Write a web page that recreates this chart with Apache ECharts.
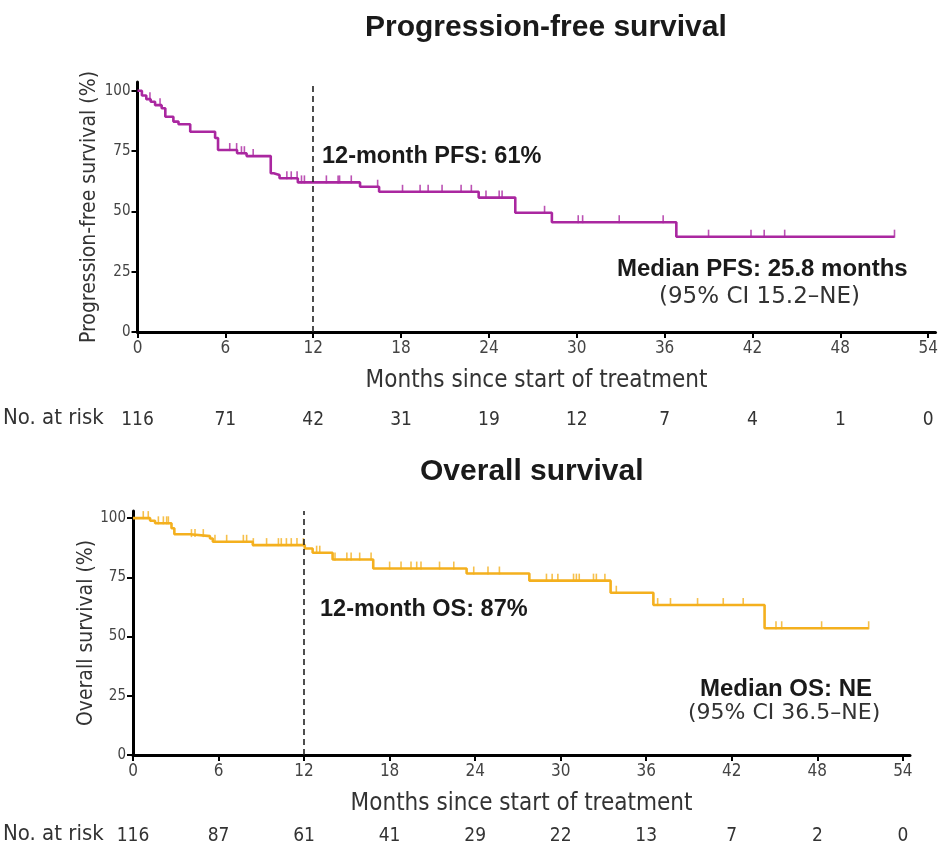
<!DOCTYPE html>
<html><head><meta charset="utf-8">
<script src="https://cdn.jsdelivr.net/npm/echarts@6/dist/echarts.min.js"></script>
<style>html,body{margin:0;padding:0;background:#fff}#c{width:943px;height:849px}</style>
</head><body><div id="c"></div>
<script>
// ---- data ----
const xTicks = [0, 6, 12, 18, 24, 30, 36, 42, 48, 54];
const yTicks = [0, 25, 50, 75, 100];

const pfsTimes  = [0, 0.3, 0.6, 0.9, 1.2, 1.65, 1.9, 2.45, 2.8, 3.6, 5.3, 5.5, 6.8, 7.45, 9.1, 9.3, 9.7, 10.95, 15.2, 16.5, 23.3, 25.8, 28.3, 36.8, 51.7];
const pfsValues = [100, 98, 96.5, 95.4, 94, 92.7, 89.2, 87.2, 86.1, 83.0, 80.4, 75.4, 74.1, 72.9, 65.8, 65.1, 63.7, 62.0, 60.2, 58.1, 55.7, 49.4, 45.5, 39.5, 39.5];
const pfsCensor = [0.85, 1.54, 6.3, 6.77, 7.1, 7.3, 7.9, 10.2, 10.5, 10.9, 11.2, 11.4, 12.9, 13.7, 13.8, 14.6, 16.4, 18.1, 19.3, 19.85, 20.8, 22.1, 22.8, 23.8, 24.7, 24.9, 27.8, 30.1, 30.4, 32.9, 35.9, 39.0, 41.9, 42.8, 44.2, 51.7];
const pfsAtRisk = [116, 71, 42, 31, 19, 12, 7, 4, 1, 0];

const osTimes  = [0, 1.2, 1.55, 2.7, 2.9, 4.0, 5.4, 5.6, 8.4, 12.05, 12.6, 14.0, 16.85, 23.4, 27.8, 33.5, 36.5, 44.3, 51.6];
const osValues = [100, 98.9, 97.8, 95.7, 93.2, 92.4, 91.4, 90.0, 88.6, 87.2, 85.4, 82.5, 78.7, 76.6, 73.6, 68.5, 63.3, 53.5, 53.5];
const osCensor = [0.72, 1.07, 1.78, 2.13, 2.36, 2.48, 4.1, 4.35, 4.93, 5.75, 6.57, 7.74, 7.97, 8.44, 9.37, 10.2, 10.4, 10.76, 11.1, 11.5, 11.95, 12.88, 13.1, 14.17, 15.0, 15.3, 15.9, 16.7, 18.0, 18.8, 19.5, 19.9, 20.2, 21.5, 22.5, 23.9, 24.9, 25.7, 29.0, 29.4, 29.8, 30.9, 31.1, 31.3, 32.3, 32.5, 33.1, 33.9, 36.8, 37.7, 39.6, 41.4, 42.8, 45.1, 45.5, 48.3, 51.6];
const osAtRisk = [116, 87, 61, 41, 29, 22, 13, 7, 2, 0];

// ---- helpers ----
function stepAt(times, vals, t) {
  let v = vals[0];
  for (let i = 0; i < times.length; i++) { if (times[i] <= t) v = vals[i]; else break; }
  return v;
}
const pfsLine = pfsTimes.map((t, i) => [t, pfsValues[i]]);
const osLine = osTimes.map((t, i) => [t, osValues[i]]);
const pfsCens = pfsCensor.map(t => [t, stepAt(pfsTimes, pfsValues, t)]);
const osCens = osCensor.map(t => [t, stepAt(osTimes, osValues, t)]);

const NARROW = '"Liberation Sans Narrow", "DejaVu Sans Condensed", "Liberation Sans", sans-serif';
const SANS = '"Liberation Sans", Arial, sans-serif';
const WIDE = '"DejaVu Sans", "Liberation Sans", sans-serif';
const PFS_COLOR = '#AA27A0';
const OS_COLOR = '#F4B01E';

function mainX(grid) {
  return {
    type: 'value', gridIndex: grid, min: 0, max: 54.5,
    name: 'Months since start of treatment', nameLocation: 'middle', nameGap: 37, nameMoveOverlap: false,
    nameTextStyle: { fontFamily: NARROW, fontSize: 24, color: '#333', verticalAlign: 'top' },
    axisLine: { show: true, onZero: false, lineStyle: { color: '#000', width: 3 } },
    axisTick: { show: true, length: 6, lineStyle: { color: '#000', width: 2 }, customValues: xTicks },
    axisLabel: { fontFamily: NARROW, fontSize: 17, color: '#444', margin: 8, customValues: xTicks },
    splitLine: { show: false }
  };
}
function riskX(grid, arr, offset) {
  return {
    type: 'value', gridIndex: grid, min: 0, max: 54.5, position: 'bottom', offset: offset,
    axisLine: { show: false }, axisTick: { show: false }, splitLine: { show: false },
    axisLabel: { fontFamily: NARROW, fontSize: 19, color: '#333', margin: 0, verticalAlign: 'middle',
      customValues: xTicks, formatter: v => String(arr[xTicks.indexOf(v)]) }
  };
}
function mainY(grid, name, max, gap) {
  return {
    type: 'value', gridIndex: grid, min: 0, max: max,
    name: name, nameLocation: 'middle', nameGap: gap, nameRotate: 90, nameMoveOverlap: false,
    nameTextStyle: { fontFamily: NARROW, fontSize: 21, color: '#333' },
    axisLine: { show: true, onZero: false, lineStyle: { color: '#000', width: 3 } },
    axisTick: { show: true, length: 6, lineStyle: { color: '#000', width: 2 }, customValues: yTicks },
    axisLabel: { fontFamily: NARROW, fontSize: 15, color: '#444', margin: 7, customValues: yTicks },
    splitLine: { show: false }
  };
}
function dashed() {
  return { symbol: 'none', silent: true, label: { show: false },
    lineStyle: { type: [6, 4], color: '#222', width: 1.6 }, data: [{ xAxis: 12 }] };
}

const chart = echarts.init(document.getElementById('c'), null, { renderer: 'canvas' });
chart.setOption({
  animation: false,
  grid: [
    { left: 137.5, top: 82, width: 798, height: 250 },
    { left: 133, top: 511, width: 777, height: 244 }
  ],
  xAxis: [mainX(0), riskX(0, pfsAtRisk, 88), mainX(1), riskX(1, osAtRisk, 81)],
  yAxis: [mainY(0, 'Progression-free survival (%)', 103.6, 37), mainY(1, 'Overall survival (%)', 103, 36)],
  series: [
    { type: 'line', xAxisIndex: 0, yAxisIndex: 0, step: 'end', data: pfsLine, showSymbol: false,
      lineStyle: { color: PFS_COLOR, width: 2.6 }, markLine: dashed(), z: 3 },
    { type: 'scatter', xAxisIndex: 0, yAxisIndex: 0, data: pfsCens, symbol: 'rect', symbolSize: [1.6, 8],
      symbolOffset: [0, -3], itemStyle: { color: PFS_COLOR }, z: 4 },
    { type: 'line', xAxisIndex: 2, yAxisIndex: 1, step: 'end', data: osLine, showSymbol: false,
      lineStyle: { color: OS_COLOR, width: 2.6 }, markLine: dashed(), z: 3 },
    { type: 'scatter', xAxisIndex: 2, yAxisIndex: 1, data: osCens, symbol: 'rect', symbolSize: [1.6, 8],
      symbolOffset: [0, -3], itemStyle: { color: OS_COLOR }, z: 4 }
  ],
  graphic: [
    { type: 'text', left: 365, top: 13, style: { text: 'Progression-free survival', font: 'bold 30px ' + SANS, fill: '#1a1a1a' } },
    { type: 'text', left: 420, top: 457, style: { text: 'Overall survival', font: 'bold 30px ' + SANS, fill: '#1a1a1a' } },
    { type: 'text', left: 3, top: 407, style: { text: 'No. at risk', font: '22px ' + NARROW, fill: '#333' } },
    { type: 'text', left: 3, top: 823, style: { text: 'No. at risk', font: '22px ' + NARROW, fill: '#333' } },
    { type: 'text', left: 322, top: 145, style: { text: '12-month PFS: 61%', font: 'bold 23.5px ' + SANS, fill: '#1a1a1a' } },
    { type: 'text', left: 617, top: 257, style: { text: 'Median PFS: 25.8 months', font: 'bold 24px ' + SANS, fill: '#1a1a1a' } },
    { type: 'text', left: 659, top: 286, style: { text: '(95% CI 15.2\u2013NE)', font: '23px ' + WIDE, fill: '#333' } },
    { type: 'text', left: 320, top: 598, style: { text: '12-month OS: 87%', font: 'bold 23.5px ' + SANS, fill: '#1a1a1a' } },
    { type: 'text', left: 700, top: 677, style: { text: 'Median OS: NE', font: 'bold 24px ' + SANS, fill: '#1a1a1a' } },
    { type: 'text', left: 688, top: 702, style: { text: '(95% CI 36.5\u2013NE)', font: '22px ' + WIDE, fill: '#333' } }
  ]
});
</script>
</body></html>
